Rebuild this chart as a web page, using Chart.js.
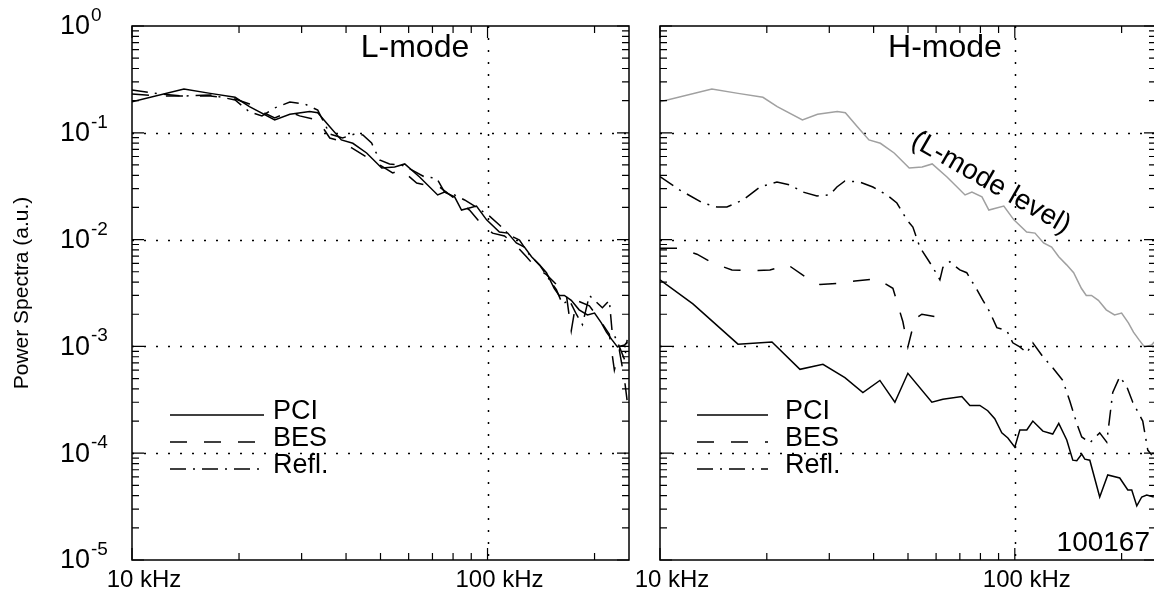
<!DOCTYPE html>
<html>
<head>
<meta charset="utf-8">
<script src="https://cdn.jsdelivr.net/npm/chart.js@4.4.1/dist/chart.umd.min.js"></script>
<style>
html,body{margin:0;padding:0;background:#fff;overflow:hidden;width:1154px;height:591px}
.box{position:absolute;left:0;top:0}
</style>
</head>
<body>
<div class="box"><canvas id="lmode" width="1160" height="591"></canvas></div>
<div class="box"><canvas id="hmode" width="1160" height="591"></canvas></div>
<script>
// L-mode spectra (kHz, a.u.)
const lPciF = [10,14.0,16.6,19.5,21.4,25.2,27.8,31.6,33.3,36.0,38.8,41.8,45.7,50.4,54.8,58.5,64.4,72.4,75.7,80.8,84.5,93.1,99.4,108,114,120.5,127,133,140,146.5,154,159,164.5,172,181,191,200,209,216,224,232,243,247];
const lPci  = [0.195,0.257,0.234,0.215,0.176,0.132,0.149,0.158,0.154,0.114,0.0857,0.0798,0.0647,0.0468,0.0479,0.0511,0.0386,0.0262,0.0279,0.0251,0.0189,0.0206,0.0153,0.0118,0.0115,0.0093,0.0085,0.0069,0.0058,0.0049,0.0035,0.0030,0.0030,0.0027,0.0022,0.00197,0.00205,0.00166,0.00136,0.00115,0.00099,0.00103,0.0011];

const lBesF = [10,12.0,14.0,16.6,19.5,21.4,23.2,25.2,27.8,29.6,33.3,36.0,38.6,41.5,45.7,49.7,54.1,57.3,63.2,68.7,73.3,81.8,89.0,95.0,103.3,111.6,119.1,128.7,137.3,146.5,156.2,166.7,172,177.8,193.4,206.3,220.1,227.4,234.9,243,247];
const lBes  = [0.231,0.221,0.221,0.221,0.207,0.186,0.157,0.138,0.157,0.144,0.132,0.0894,0.0838,0.0721,0.0593,0.0500,0.0421,0.0449,0.0339,0.0318,0.0311,0.0235,0.0189,0.0146,0.0115,0.0108,0.0091,0.0069,0.0054,0.0047,0.0038,0.0030,0.0014,0.0027,0.0024,0.0018,0.0013,0.0006,0.00092,0.00048,0.00031];

const lReflF = [10,12.0,14.0,16.6,19.5,21.4,23.2,25.2,27.8,30.6,33.3,36.0,39.1,42.3,44.6,47.2,49.7,53.0,57.3,61.2,66.5,71.9,75.7,80.8,86.2,93.7,101.3,108,115.3,123,131.2,140,149.4,156.2,162.4,170,177.8,184.9,193.4,202.4,210.4,220.1,224,232,243,247];
const lRefl  = [0.252,0.231,0.221,0.226,0.203,0.157,0.144,0.171,0.194,0.186,0.163,0.0975,0.0894,0.0975,0.0954,0.0802,0.0556,0.0510,0.0500,0.0449,0.0386,0.0377,0.0279,0.0262,0.0235,0.0198,0.0166,0.0137,0.0110,0.0099,0.0072,0.0058,0.0042,0.0034,0.0025,0.0027,0.0020,0.0016,0.0030,0.0026,0.0023,0.0027,0.0014,0.0011,0.00075,0.00115];

// H-mode spectra (kHz, a.u.)
const hPciF = [10,12.38,16.59,20.68,24.80,28.79,33.20,37.31,41.66,45.92,49.96,58.38,62.7,70.9,74.7,79.7,83.9,87.8,91.9,95.6,100,103.3,108.1,112.4,120.0,127.9,133.0,140.1,145.7,149.5,154.4,157.5,162.7,173.5,182.8,197.6,208.2,213.6,220.7,227.9,235.4,246.4];
const hPci  = [0.0042,0.0025,0.00105,0.0011,0.00061,0.00068,0.00051,0.00037,0.00048,0.00030,0.00056,0.00030,0.00032,0.00034,0.00028,0.00028,0.00025,0.00021,0.000155,0.000139,0.000114,0.000165,0.000165,0.00020,0.000161,0.000151,0.00019,0.000133,0.000086,0.000085,0.000098,0.000088,0.000086,0.0000389,0.0000625,0.0000586,0.0000452,0.0000452,0.0000321,0.0000389,0.0000406,0.0000389];

const hBesF = [10,11.24,12.71,14.11,15.95,17.93,20.41,22.94,25.62,28.23,32.14,35.43,40.86,45.33,48.37,49.96,52.28,54.70,59.52];
const hBes  = [0.0083,0.0083,0.0073,0.0060,0.0052,0.0051,0.0052,0.0058,0.0045,0.0038,0.0039,0.0041,0.0043,0.0035,0.0017,0.00099,0.0018,0.0020,0.0019];

const hReflF = [10,11.38,13.21,14.47,15.44,17.13,19.13,21.36,23.24,25.28,27.69,30.12,31.52,33.20,36.59,39.81,43.60,46.52,49.64,51.61,54.0,58.75,61.5,62.7,65.6,70.0,73.2,78.2,81.3,85.0,89.0,95.0,98.7,103.3,108.1,112.4,120.0,127.9,136.5,142.8,149.5,154.4,162.7,173.5,181.6,188.8,197.6,206.8,215.0,229.4,237.0,243.2];
const hRefl  = [0.0388,0.0291,0.0220,0.0202,0.0202,0.0235,0.0311,0.0346,0.0325,0.0279,0.0256,0.0262,0.0311,0.0354,0.0346,0.0311,0.0262,0.0220,0.0153,0.0131,0.0085,0.0055,0.0042,0.0055,0.0062,0.0052,0.0049,0.0034,0.0027,0.0021,0.0015,0.0014,0.00108,0.00099,0.00087,0.00108,0.00080,0.00063,0.00048,0.00031,0.00019,0.000142,0.000125,0.000155,0.000127,0.00037,0.00052,0.00042,0.00030,0.00020,0.000107,0.000096];

// axes
const xMin = 10, xMax = 250;
const yMin = 1e-5, yMax = 1;
const xLabelVals = [10, 100];
const xLabels = ['10 kHz', '100 kHz'];
const yLabelVals = [1, 1e-1, 1e-2, 1e-3, 1e-4, 1e-5];
const yLabelExp = ['0', '-1', '-2', '-3', '-4', '-5'];
const legendNames = ['PCI', 'BES', 'Refl.'];

const FONT = "'Liberation Sans', Arial, Helvetica, sans-serif";
const BES_DASH = [17, 17];
const REFL_DASH = [16, 7, 2, 7];

function pts(f, v) {
  return f.map((x, i) => ({x: x, y: v[i]}));
}

function line(label, f, v, dash, color) {
  return {
    label: label,
    data: pts(f, v),
    borderColor: color || '#000',
    borderWidth: 1.5,
    borderDash: dash || [],
    pointRadius: 0,
    tension: 0,
    fill: false
  };
}

const panelPlugin = {
  id: 'panel',
  beforeDatasetsDraw(chart, args, o) {
    const ctx = chart.ctx, a = chart.chartArea;
    const xs = chart.scales.x, ys = chart.scales.y;
    ctx.save();
    ctx.strokeStyle = '#000';
    ctx.lineWidth = 1.5;
    ctx.setLineDash([2, 10]);
    [1e-1, 1e-2, 1e-3, 1e-4].forEach(v => {
      const y = Math.round(ys.getPixelForValue(v)) + 0.5;
      ctx.beginPath(); ctx.moveTo(a.left, y); ctx.lineTo(a.right, y); ctx.stroke();
    });
    const x = Math.round(xs.getPixelForValue(100)) + 0.5;
    ctx.beginPath(); ctx.moveTo(x, a.top); ctx.lineTo(x, a.bottom); ctx.stroke();
    ctx.restore();
  },
  afterDatasetsDraw(chart, args, o) {
    const ctx = chart.ctx, a = chart.chartArea;
    const xs = chart.scales.x, ys = chart.scales.y;
    ctx.save();
    ctx.strokeStyle = '#000';
    ctx.lineWidth = 1.5;
    ctx.setLineDash([]);
    ctx.strokeRect(a.left, a.top, a.right - a.left, a.bottom - a.top);

    // inward ticks
    ctx.lineWidth = 1.2;
    for (let d = 1; d <= 2; d++) {
      for (let m = 1; m <= 9; m++) {
        const v = m * Math.pow(10, d);
        if (v < xMin || v > xMax) continue;
        const px = xs.getPixelForValue(v);
        const len = m === 1 ? 12 : 7;
        ctx.beginPath();
        ctx.moveTo(px, a.bottom); ctx.lineTo(px, a.bottom - len);
        ctx.moveTo(px, a.top); ctx.lineTo(px, a.top + len);
        ctx.stroke();
      }
    }
    for (let d = -5; d <= 0; d++) {
      for (let m = 1; m <= 9; m++) {
        const v = m * Math.pow(10, d);
        if (v > yMax) continue;
        const py = ys.getPixelForValue(v);
        const len = m === 1 ? 12 : 7;
        ctx.beginPath();
        ctx.moveTo(a.left, py); ctx.lineTo(a.left + len, py);
        ctx.moveTo(a.right, py); ctx.lineTo(a.right - len, py);
        ctx.stroke();
      }
    }

    ctx.fillStyle = '#000';
    // x tick labels
    ctx.font = '24px ' + FONT;
    ctx.textAlign = 'center';
    ctx.textBaseline = 'alphabetic';
    xLabelVals.forEach((v, i) => {
      ctx.fillText(xLabels[i], xs.getPixelForValue(v) + 12, a.bottom + 27);
    });

    // y tick labels + title (left panel only)
    if (o.yLabels) {
      yLabelVals.forEach((v, i) => {
        const py = ys.getPixelForValue(v);
        ctx.font = '27px ' + FONT;
        ctx.textAlign = 'right';
        ctx.textBaseline = 'middle';
        ctx.fillText('10', 90, py + 1);
        ctx.font = '19px ' + FONT;
        ctx.textAlign = 'left';
        ctx.textBaseline = 'alphabetic';
        ctx.fillText(yLabelExp[i], 91, py - 5);
      });
      ctx.save();
      ctx.translate(22, (a.top + a.bottom) / 2);
      ctx.rotate(-Math.PI / 2);
      ctx.font = '21px ' + FONT;
      ctx.textAlign = 'center';
      ctx.textBaseline = 'middle';
      ctx.fillText('Power Spectra (a.u.)', 0, 0);
      ctx.restore();
    }

    // panel title
    ctx.font = '32px ' + FONT;
    ctx.textAlign = 'center';
    ctx.textBaseline = 'middle';
    ctx.fillText(o.title, o.titleX, 48);

    // legend
    const lg = o.legend;
    const dashes = [[], BES_DASH, REFL_DASH];
    legendNames.forEach((name, i) => {
      const y = lg.y + i * 27;
      ctx.lineWidth = 1.5;
      ctx.setLineDash(dashes[i]);
      ctx.beginPath(); ctx.moveTo(lg.x0, y); ctx.lineTo(lg.x1, y); ctx.stroke();
      ctx.setLineDash([]);
      ctx.font = '27px ' + FONT;
      ctx.textAlign = 'left';
      ctx.textBaseline = 'middle';
      ctx.fillText(name, lg.tx, y - 3);
    });

    if (o.extra) o.extra(ctx);
    ctx.restore();
  }
};

function makeChart(id, datasets, pad, opts) {
  return new Chart(document.getElementById(id), {
    type: 'line',
    data: {datasets: datasets},
    options: {
      responsive: false,
      animation: false,
      layout: {padding: pad},
      plugins: {legend: {display: false}, tooltip: {enabled: false}, panel: opts},
      scales: {
        x: {type: 'logarithmic', min: xMin, max: xMax, display: false},
        y: {type: 'logarithmic', min: yMin, max: yMax, display: false}
      }
    },
    plugins: [panelPlugin]
  });
}

makeChart('lmode', [
  line('PCI', lPciF, lPci),
  line('BES', lBesF, lBes, BES_DASH),
  line('Refl.', lReflF, lRefl, REFL_DASH)
], {left: 132, right: 1160 - 629, top: 26, bottom: 31}, {
  yLabels: true, title: 'L-mode', titleX: 415,
  legend: {x0: 170, x1: 264, tx: 273, y: 415}
});

makeChart('hmode', [
  line('L-mode level', lPciF, lPci, [], '#a0a0a0'),
  line('PCI', hPciF, hPci),
  line('BES', hBesF, hBes, BES_DASH),
  line('Refl.', hReflF, hRefl, REFL_DASH)
], {left: 660, right: 4, top: 26, bottom: 31}, {
  yLabels: false, title: 'H-mode', titleX: 945,
  legend: {x0: 697, x1: 768, tx: 785, y: 415},
  extra(ctx) {
    ctx.save();
    ctx.translate(991, 183);
    ctx.rotate(30 * Math.PI / 180);
    ctx.font = '28px ' + FONT;
    ctx.textAlign = 'center';
    ctx.textBaseline = 'middle';
    ctx.fillText('(L-mode level)', 0, 0);
    ctx.restore();
    ctx.font = '28px ' + FONT;
    ctx.textAlign = 'right';
    ctx.textBaseline = 'middle';
    ctx.fillText('100167', 1150, 543);
  }
});
</script>
</body>
</html>
